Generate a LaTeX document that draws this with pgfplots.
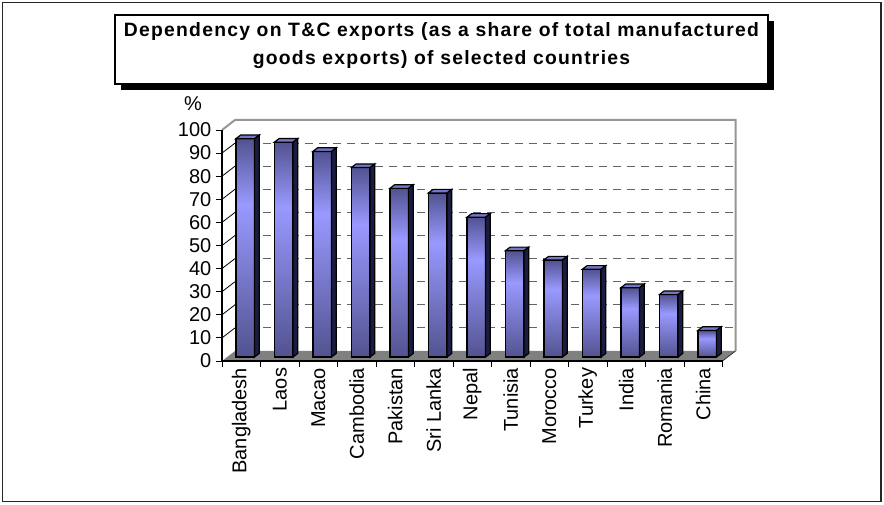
\documentclass[border=0pt]{standalone}
\usepackage{pgfplots}
\pgfplotsset{compat=1.18}
\usepackage{pgfplotstable}
\usepackage{fontspec}
\setmainfont{Liberation Sans}
\newfontfamily\titlefont[LetterSpace=6.5]{Liberation Sans}
\definecolor{barTop}{RGB}{58,58,108}
\definecolor{barMid}{RGB}{153,153,255}
\definecolor{barBot}{RGB}{72,72,128}
\definecolor{barFace}{RGB}{118,118,200}
\definecolor{barSide}{RGB}{28,28,64}
\definecolor{floorGray}{RGB}{128,128,128}
\definecolor{wallGray}{RGB}{150,150,150}
\definecolor{gridGray}{RGB}{100,100,100}

\pgfdeclareverticalshading{barshade}{100bp}{color(0bp)=(barBot); color(20bp)=(barBot); color(60bp)=(barMid); color(80bp)=(barTop); color(100bp)=(barTop)}

\pgfplotstableread{
i v
0 94.5
1 93
2 89
3 82
4 73
5 71
6 60.5
7 46
8 42
9 38
10 30
11 27
12 11.5
}\data

\pgfdeclareplotmark{barthreed}{%
  \pgfmathsetlengthmacro\hh{\val*1.7325pt}%
  \pgfpathrectangle{\pgfpoint{-7pt}{-\hh}}{\pgfpoint{14pt}{\hh}}%
  \pgfshadepath{barshade}{0}%
  \pgfusepath{stroke}%
  \pgfsetfillcolor{barFace}%
  \pgfpathmoveto{\pgfqpoint{-7pt}{0pt}}%
  \pgfpathlineto{\pgfqpoint{7pt}{0pt}}%
  \pgfpathlineto{\pgfqpoint{10.5pt}{2.7pt}}%
  \pgfpathlineto{\pgfqpoint{-3.5pt}{2.7pt}}%
  \pgfpathclose
  \pgfusepath{fill,stroke}%
  \pgfsetfillcolor{barSide}%
  \pgfpathmoveto{\pgfqpoint{7pt}{0pt}}%
  \pgfpathlineto{\pgfqpoint{10.5pt}{2.7pt}}%
  \pgfpathlineto{\pgfpoint{10.5pt}{2.7pt-\hh}}%
  \pgfpathlineto{\pgfpoint{7pt}{-\hh}}%
  \pgfpathclose
  \pgfusepath{fill,stroke}%
}

\begin{document}
\begin{tikzpicture}
\useasboundingbox (-166.5pt,-108pt) rectangle (496.5pt,270.75pt);
\draw[line width=0.8pt, black!85] (-164.6pt,-105.4pt) rectangle (494.25pt,268.9pt);
\fill[black] (-75.75pt,203.25pt) rectangle (414pt,255pt);
\draw[fill=white, line width=0.8pt] (-80.25pt,207.75pt) rectangle (409.5pt,259.5pt);
\node[font=\titlefont\bfseries\fontsize{14.5}{21}\selectfont, align=center] at (164.6pt,236.5pt)
  {Dependency on T\&C exports (as a share of total manufactured\\goods exports) of selected countries};
\begin{axis}[
  at={(0pt,0pt)}, anchor=south west,
  x=28.875pt, y=1.7325pt,
  xmin=-0.5, xmax=12.5, ymin=0, ymax=100,
  clip=false,
  axis lines*=left,
  axis line style={-, black, line width=0.8pt},
  axis on top,
  tick align=outside,
  major tick length=4.5pt,
  tick style={black, line width=0.7pt},
  xtick={-0.5,0.5,...,12.5},
  x tick label as interval,
  xticklabels={Bangladesh,Laos,Macao,Cambodia,Pakistan,Sri Lanka,Nepal,Tunisia,Morocco,Turkey,India,Romania,China},
  x tick label style={rotate=90, anchor=east, inner sep=0.5pt, font=\fontsize{15}{18}\selectfont},
  ytick={0,10,...,100},
  y tick label style={font=\fontsize{15}{18}\selectfont},
  /pgf/number format/assume math mode=true,
  ylabel={\%},
  every axis y label/.style={at={(rel axis cs:0,1)}, anchor=center, xshift=-21.75pt, yshift=19.5pt, font=\fontsize{15}{18}\selectfont},
]
\pgfplotsinvokeforeach{10,20,...,90}{
  \draw[gridGray, line width=0.8pt, dash pattern=on 6pt off 4.5pt]
    ([shift={(9.75pt,7.5pt)}]axis cs:-0.5,#1) -- ([shift={(9.75pt,7.5pt)}]axis cs:12.5,#1);
  \draw[black, line width=0.6pt] (axis cs:-0.5,#1) -- ++(9.75pt,7.5pt);
}
\draw[wallGray, line width=1.5pt] (axis cs:-0.5,100) -- ++(9.75pt,7.5pt)
  -- ([shift={(9.75pt,7.5pt)}]axis cs:12.5,100) -- ([shift={(9.75pt,7.5pt)}]axis cs:12.5,0);
\fill[floorGray] (axis cs:-0.5,0) -- (axis cs:12.5,0) -- ++(9.75pt,7.5pt)
  -- ([shift={(9.75pt,7.5pt)}]axis cs:-0.5,0) -- cycle;
\draw[black!80, line width=0.6pt] (axis cs:12.5,0) -- ++(9.75pt,7.5pt);
\addplot[ybar, bar width=14pt, bar shift=0pt, xshift=3pt, yshift=3pt, draw=black, line width=0.9pt,
  fill=barTop]
  table[x=i, y=v] {\data};
\addplot[only marks, mark=barthreed, draw=black, line width=0.9pt, xshift=3pt, yshift=3pt,
  visualization depends on={\thisrow{v} \as \val}]
  table[x=i, y=v] {\data};
\end{axis}
\end{tikzpicture}
\end{document}
